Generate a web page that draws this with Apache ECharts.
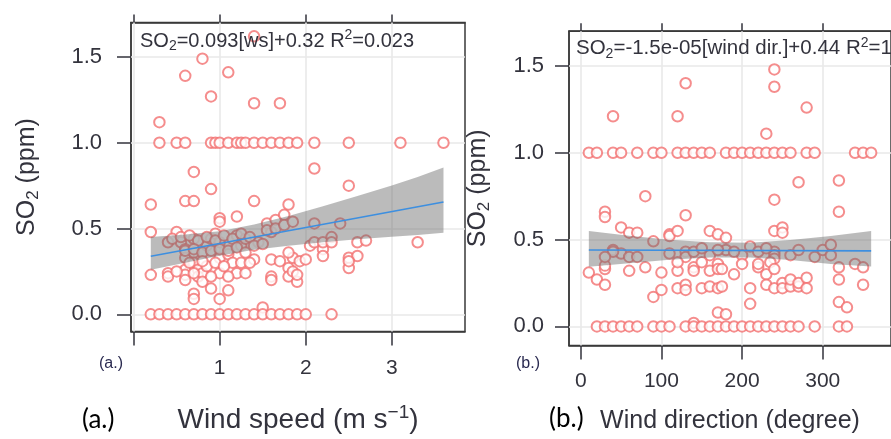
<!DOCTYPE html>
<html>
<head>
<meta charset="utf-8">
<script src="https://cdn.jsdelivr.net/npm/echarts@6/dist/echarts.min.js"></script>
<style>
  html, body { margin: 0; padding: 0; background: #fff; overflow: hidden; }
  #chart { width: 891px; height: 439px; }
</style>
</head>
<body>
<div id="chart"></div>
<script>
// ---------- Panel (a): SO2 against wind speed ----------
const wsTickValues = [0, 1, 2, 3];
const wsLabelValues = [1, 2, 3];
const so2TickValues = [0, 0.5, 1, 1.5];

const wsSpeed = [
  0.3,0.5,0.6,0.9,0.95,1.0,1.1,1.2,1.25,1.3,1.4,1.5,1.6,1.7,1.8,1.9,2.1,2.5,3.1,3.6,
  0.3,0.6,0.8,0.9,1.1,1.4,1.7,1.4,0.7,0.9,2.1,2.5,
  0.2,0.6,0.7,1.4,1.8,
  0.2,0.2,0.4,0.4,0.4,0.5,0.55,0.6,0.6,0.6,0.6,0.6,0.7,0.7,0.7,0.75,0.75,0.8,0.7,0.7,
  0.8,0.9,0.85,0.9,0.95,1.0,1.0,1.0,1.0,1.0,1.1,1.0,1.2,1.2,1.25,1.3,1.1,1.15,1.2,1.4,
  1.45,1.6,1.55,1.65,1.75,1.6,1.6,1.6,1.7,1.8,1.8,1.85,1.85,1.9,1.9,1.8,1.93,2.0,2.05,2.1,
  2.1,2.2,2.2,2.2,2.3,2.3,2.4,2.6,2.7,3.3,2.5,2.6,2.5,2.5,1.5,
  0.45,0.55,0.65,0.75,0.85,0.95,1.05,1.15,1.25,1.35,0.6,0.7,0.8,0.9,1.0,1.1,1.2,1.3,1.4,1.5,
  1.55,1.65,1.75,1.85,0.65,0.85,0.95,1.05,1.25,0.5,0.7,0.9,1.1,1.3,0.8,1.35,
  0.2,0.3,0.4,0.5,0.6,0.7,0.8,0.9,1.0,1.1,1.2,1.3,1.4,1.5,1.6,1.7,1.8,1.9,2.0,2.3
];
const wsSO2 = [
  1,1,1,1,1,1,1,1,1,1,1,1,1,1,1,1,1,1,1,1,
  1.12,1.39,1.49,1.27,1.41,1.23,1.23,1.62,0.83,0.73,0.85,0.75,
  0.64,0.66,0.66,0.66,0.64,
  0.48,0.23,0.24,0.22,0.42,0.48,0.42,0.38,0.33,0.26,0.23,0.20,0.44,0.36,0.30,0.26,0.22,0.24,0.12,0.09,
  0.19,0.15,0.40,0.44,0.47,0.56,0.54,0.42,0.33,0.24,0.14,0.09,0.57,0.46,0.40,0.44,0.35,0.30,0.24,0.32,
  0.42,0.48,0.53,0.55,0.58,0.32,0.22,0.20,0.31,0.27,0.22,0.33,0.25,0.19,0.23,0.36,0.31,0.32,0.40,0.42,
  0.53,0.38,0.34,0.42,0.45,0.42,0.53,0.42,0.43,0.42,0.33,0.34,0.27,0.31,0.04,
  0.44,0.45,0.46,0.43,0.45,0.43,0.46,0.44,0.47,0.45,0.37,0.38,0.36,0.37,0.38,0.37,0.39,0.36,0.40,0.41,
  0.49,0.50,0.52,0.54,0.30,0.28,0.30,0.28,0.30,0.25,0.24,0.22,0.22,0.24,0.31,0.30,
  0,0,0,0,0,0,0,0,0,0,0,0,0,0,0,0,0,0,0,0
];

// linear fit printed on the panel, and its confidence band
const wsSlope = 0.093;
const wsIntercept = 0.32;
const wsFitRange = [0.2, 3.6];
const wsBandX    = [0.2, 0.6, 1.0, 1.4, 1.8, 2.2, 2.6, 3.0, 3.3, 3.6];
const wsBandLow  = [0.26, 0.30, 0.342, 0.377, 0.40, 0.42, 0.437, 0.452, 0.463, 0.475];
const wsBandHigh = [0.45, 0.465, 0.484, 0.524, 0.573, 0.63, 0.69, 0.751, 0.80, 0.855];

// ---------- Panel (b): SO2 against wind direction ----------
const wdTickValues = [0, 100, 200, 300];

const wdDirection = [
  10,20,40,50,70,90,100,120,130,140,150,160,180,190,200,210,220,230,240,250,260,280,290,340,350,360,
  40,120,130,240,240,280,230,270,320,80,240,
  30,30,50,60,70,90,110,110,120,130,160,170,240,250,250,320,210,220,240,240,240,260,270,290,300,310,310,
  40,50,60,70,130,130,160,180,110,140,150,170,40,230,200,190,180,
  10,20,30,30,30,30,60,80,90,100,100,120,120,130,130,140,140,150,150,160,160,170,170,170,170,180,
  220,220,230,235,240,210,210,230,240,250,250,260,270,260,270,280,280,320,320,320,330,340,350,350,
  140,120,200,190,175,175,
  20,30,40,50,60,70,90,100,110,130,140,150,160,170,180,190,200,210,220,230,240,250,260,270,290,320,330
];
const wdSO2 = [
  1,1,1,1,1,1,1,1,1,1,1,1,1,1,1,1,1,1,1,1,1,1,1,1,1,1,
  1.21,1.21,1.40,1.48,1.38,1.26,1.11,0.83,0.84,0.75,0.73,
  0.66,0.63,0.57,0.54,0.54,0.49,0.53,0.52,0.55,0.64,0.55,0.53,0.55,0.57,0.54,0.66,0.46,0.43,0.43,0.41,0.39,0.41,0.44,0.40,0.44,0.47,0.41,
  0.44,0.42,0.40,0.40,0.43,0.40,0.41,0.44,0.42,0.43,0.45,0.44,0.43,0.45,0.41,0.43,0.51,
  0.31,0.27,0.24,0.33,0.35,0.40,0.32,0.34,0.17,0.31,0.21,0.32,0.22,0.24,0.21,0.34,0.32,0.37,0.22,0.32,0.23,0.36,0.33,0.22,0.08,0.07,
  0.34,0.36,0.30,0.37,0.33,0.22,0.13,0.24,0.22,0.25,0.22,0.23,0.23,0.27,0.25,0.28,0.22,0.34,0.27,0.14,0.11,0.36,0.34,0.24,
  0.02,0.37,0.36,0.30,0.33,0.23,
  0,0,0,0,0,0,0,0,0,0,0,0,0,0,0,0,0,0,0,0,0,0,0,0,0,0,0
];

const wdSlope = -1.5e-05;
const wdIntercept = 0.44;
const wdFitRange = [10, 360];
const wdBandX    = [10, 60, 110, 160, 210, 260, 310, 360];
const wdBandLow  = [0.343, 0.364, 0.384, 0.397, 0.397, 0.382, 0.36, 0.345];
const wdBandHigh = [0.55, 0.522, 0.499, 0.484, 0.482, 0.497, 0.52, 0.55];

// ---------- styling ----------
const FONT = 'Liberation Sans';
const INK = '#33333d';
const FRAME = '#3a3a3a';
const POINT = '#f37070';
const GRIDLINE = '#e9e9e9';
const FIT = '#3d8fe0';

function pairs(xs, ys) { return xs.map((x, i) => [x, ys[i]]); }

function fitLine(slope, intercept, range) {
  return range.map(x => [x, intercept + slope * x]);
}

// confidence band as one filled polygon in data coordinates
function bandSeries(idx, bx, lo, hi) {
  return {
    type: 'custom', xAxisIndex: idx, yAxisIndex: idx, z: 4, silent: true,
    data: [[bx[0], lo[0]]],
    renderItem: function (params, api) {
      const pts = [];
      for (let i = 0; i < bx.length; i++) pts.push(api.coord([bx[i], hi[i]]));
      for (let i = bx.length - 1; i >= 0; i--) pts.push(api.coord([bx[i], lo[i]]));
      return { type: 'polygon', shape: { points: pts }, style: { fill: 'rgba(105,105,105,0.45)' } };
    }
  };
}

// straight fitted line through the axis scales
function fitSeries(idx, slope, intercept, range) {
  const pts = fitLine(slope, intercept, range);
  return {
    type: 'custom', xAxisIndex: idx, yAxisIndex: idx, z: 5, silent: true,
    data: [pts[0]],
    renderItem: function (params, api) {
      return {
        type: 'polyline',
        shape: { points: pts.map(p => api.coord(p)) },
        style: { stroke: FIT, lineWidth: 1.7, fill: null }
      };
    }
  };
}

function gridLines(xTicks, yTicks) {
  return {
    silent: true, symbol: 'none', z: 1, animation: false,
    label: { show: false },
    lineStyle: { color: GRIDLINE, type: 'solid', width: 1.6 },
    emphasis: { disabled: true },
    data: xTicks.map(v => ({ xAxis: v })).concat(yTicks.map(v => ({ yAxis: v })))
  };
}

const richMain = (size) => {
  const small = Math.round(size * 0.68);
  return {
    n: { fontFamily: FONT, fontSize: size, fontWeight: 'normal', lineHeight: size + 5, color: INK },
    s: { fontFamily: FONT, fontSize: small, fontWeight: 'normal', lineHeight: small, verticalAlign: 'bottom', color: INK },
    p: { fontFamily: FONT, fontSize: small, fontWeight: 'normal', lineHeight: small, verticalAlign: 'top', color: INK }
  };
};

function frameLine() { return { show: true, onZero: false, lineStyle: { color: FRAME, width: 1.5 } }; }
function ticks(values, len) { return { show: true, length: len, customValues: values, lineStyle: { color: INK, width: 1.5 } }; }

function bottomAxis(grid, min, max, tickVals, labelVals, margin, name, nameSize, nameGap) {
  return {
    type: 'value', gridIndex: grid, position: 'bottom', min: min, max: max,
    axisLine: frameLine(), splitLine: { show: false }, axisTick: ticks(tickVals, 14),
    axisLabel: { show: true, customValues: labelVals, margin: margin, color: INK, fontFamily: FONT, fontSize: 21 },
    name: name, nameLocation: 'middle', nameGap: nameGap,
    nameTextStyle: { fontWeight: 'normal', rich: richMain(nameSize) }
  };
}

function topAxis(grid, min, max, tickVals) {
  return {
    type: 'value', gridIndex: grid, position: 'top', min: min, max: max,
    axisLine: frameLine(), splitLine: { show: false }, axisTick: ticks(tickVals, 8),
    axisLabel: { show: false }
  };
}

function leftAxis(grid, min, max, tickVals, margin, nameGap) {
  return {
    type: 'value', gridIndex: grid, position: 'left', min: min, max: max,
    axisLine: frameLine(), splitLine: { show: false }, axisTick: ticks(tickVals, 14),
    axisLabel: { show: true, customValues: tickVals, margin: margin, color: INK, fontFamily: FONT, fontSize: 22,
                 formatter: v => Number(v).toFixed(1) },
    name: '{n|SO}{s|2}{n| (ppm)}', nameLocation: 'middle', nameRotate: 90, nameGap: nameGap,
    nameTextStyle: { fontWeight: 'normal', rich: richMain(25) }
  };
}

function textBox(left, top, text, rich) {
  return { left: left, top: top, padding: 0, text: text,
           textStyle: { fontWeight: 'normal', fontFamily: FONT, color: INK, rich: rich } };
}
function tagBox(left, top, text, size, family, color) {
  return { left: left, top: top, padding: 0, text: text,
           textStyle: { fontFamily: family, fontSize: size, lineHeight: size + 2, color: color, fontWeight: 'normal' } };
}

const chart = echarts.init(document.getElementById('chart'));

chart.setOption({
  animation: false,
  title: [
    textBox(140, 28.5, '{n|SO}{s|2}{n|=0.093[ws]+0.32 R}{p|2}{n|=0.023}', richMain(20)),
    textBox(576, 36, '{n|SO}{s|2}{n|=-1.5e-05[wind dir.]+0.44 R}{p|2}{n|=1.1e-05}', richMain(20.5)),
    tagBox(99, 355, '(a.)', 16, FONT, '#2a2a50'),
    tagBox(516, 355, '(b.)', 16, FONT, '#2a2a50'),
    tagBox(82, 406, '(a.)', 26, 'Lato', '#000000'),
    tagBox(549, 405, '(b.)', 26, 'Lato', '#000000')
  ],
  grid: [
    { left: 131, top: 22.6, width: 334, height: 309.6, show: true, borderColor: FRAME, borderWidth: 1.5, backgroundColor: '#ffffff' },
    { left: 569, top: 31.2, width: 328.6, height: 314.9, show: true, borderColor: FRAME, borderWidth: 1.5, backgroundColor: '#ffffff' }
  ],
  xAxis: [
    bottomAxis(0, -0.03, 3.85, wsTickValues, wsLabelValues, 26, '{n|Wind speed (m s}{p|\u22121}{n|)}', 28, 72),
    bottomAxis(1, -14.6, 384.6, wdTickValues, wdTickValues, 25, '{n|Wind direction (degree)}', 25, 61),
    topAxis(0, -0.03, 3.85, wsTickValues),
    topAxis(1, -14.6, 384.6, wdTickValues)
  ],
  yAxis: [
    leftAxis(0, -0.1, 1.7, so2TickValues, 29, 89),
    leftAxis(1, -0.11, 1.7, so2TickValues, 25, 76)
  ],
  series: [
    {
      type: 'scatter', xAxisIndex: 0, yAxisIndex: 0, z: 3, silent: true,
      symbol: 'emptyCircle', symbolSize: 10.5,
      itemStyle: { color: POINT, borderColor: POINT, borderWidth: 1.4 },
      data: pairs(wsSpeed, wsSO2),
      markLine: gridLines(wsTickValues, so2TickValues)
    },
    bandSeries(0, wsBandX, wsBandLow, wsBandHigh),
    fitSeries(0, wsSlope, wsIntercept, wsFitRange),
    {
      type: 'scatter', xAxisIndex: 1, yAxisIndex: 1, z: 3, silent: true,
      symbol: 'emptyCircle', symbolSize: 10.5,
      itemStyle: { color: POINT, borderColor: POINT, borderWidth: 1.4 },
      data: pairs(wdDirection, wdSO2),
      markLine: gridLines(wdTickValues, so2TickValues)
    },
    bandSeries(1, wdBandX, wdBandLow, wdBandHigh),
    fitSeries(1, wdSlope, wdIntercept, wdFitRange)
  ]
});
</script>
</body>
</html>
